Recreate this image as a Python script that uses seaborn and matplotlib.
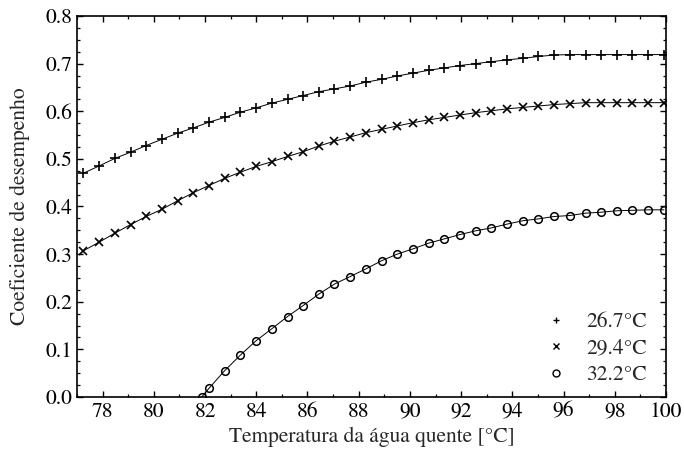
import matplotlib
matplotlib.use("Agg")
import matplotlib.pyplot as plt
from matplotlib.lines import Line2D
from matplotlib.ticker import MultipleLocator, FormatStrFormatter
import seaborn as sns

# Temperatura da água quente [°C] (pontos da malha)
temp_agua = [77.25, 77.86, 78.48, 79.09, 79.70, 80.31, 80.93, 81.54, 82.15, 82.76,
             83.38, 83.99, 84.60, 85.22, 85.83, 86.44, 87.05, 87.67, 88.28, 88.89,
             89.50, 90.12, 90.73, 91.34, 91.95, 92.57, 93.18, 93.79, 94.40, 95.02,
             95.63, 96.24, 96.86, 97.47, 98.08, 98.69, 99.30, 99.92]

# Coeficiente de desempenho para 26.7°C
cop_267 = [0.470, 0.485, 0.501, 0.514, 0.528, 0.541, 0.554, 0.565, 0.577, 0.587,
           0.598, 0.607, 0.617, 0.625, 0.633, 0.641, 0.647, 0.653, 0.661, 0.667,
           0.674, 0.680, 0.686, 0.691, 0.696, 0.700, 0.704, 0.708, 0.711, 0.715,
           0.718, 0.719, 0.719, 0.719, 0.719, 0.719, 0.719, 0.719]

# Coeficiente de desempenho para 29.4°C
cop_294 = [0.307, 0.325, 0.344, 0.362, 0.379, 0.394, 0.412, 0.429, 0.444, 0.459,
           0.472, 0.484, 0.494, 0.505, 0.515, 0.527, 0.537, 0.546, 0.555, 0.562,
           0.569, 0.576, 0.582, 0.587, 0.592, 0.597, 0.601, 0.605, 0.608, 0.611,
           0.614, 0.616, 0.618, 0.618, 0.618, 0.618, 0.618, 0.618]

# 32.2°C: começa no ponto onde o COP vale zero
temp_322 = [81.87] + temp_agua[8:]
cop_322 = [0.000, 0.018, 0.055, 0.088, 0.118, 0.143, 0.169, 0.192, 0.216, 0.237,
           0.253, 0.269, 0.286, 0.300, 0.311, 0.323, 0.332, 0.341, 0.349, 0.355,
           0.363, 0.370, 0.374, 0.379, 0.381, 0.386, 0.388, 0.391, 0.392, 0.393,
           0.393]

ROTULOS = ["26.7°C", "29.4°C", "32.2°C"]
MARCADORES = ["+", "x", "o"]

sns.set_theme(style="ticks")
plt.rcParams["font.family"] = ["STIXGeneral", "Liberation Serif", "DejaVu Serif"]
plt.rcParams["mathtext.fontset"] = "stix"
FS = 15.5

fig = plt.figure(figsize=(6.84, 4.57), dpi=100)
ax = fig.add_axes([0.1126, 0.1313, 0.8611, 0.8337])

series = [(temp_agua, cop_267, 7, 1.2), (temp_agua, cop_294, 5.5, 1.2), (temp_322, cop_322, 5.5, 1.1)]
for (xs, ys, ms, mew), marc in zip(series, MARCADORES):
    extra = {"markerfacecolor": "none"} if marc == "o" else {}
    sns.lineplot(x=xs, y=ys, ax=ax, color="black", linewidth=0.7, marker=marc,
                 markersize=ms, markeredgewidth=mew, markeredgecolor="black", **extra)

ax.set_xlim(77, 100)
ax.set_ylim(0, 0.8)
ax.xaxis.set_major_locator(MultipleLocator(2))
ax.xaxis.set_minor_locator(MultipleLocator(1))
ax.yaxis.set_major_locator(MultipleLocator(0.1))
ax.yaxis.set_minor_locator(MultipleLocator(0.025))
ax.yaxis.set_major_formatter(FormatStrFormatter("%.1f"))
ax.tick_params(which="both", direction="in", top=True, right=True, labelsize=FS, colors="black")
ax.tick_params(which="major", length=4.5, width=1.0)
ax.tick_params(which="minor", length=2.3, width=0.9)
for sp in ax.spines.values():
    sp.set_linewidth(1.2)
    sp.set_color("black")

ax.set_xlabel("Temperatura da água quente [°C]", fontsize=FS, labelpad=4)
ax.set_ylabel("Coeficiente de desempenho", fontsize=FS, labelpad=11)

handles = [Line2D([], [], linestyle="none", marker=m, color="black", markersize=5,
                  markeredgewidth=1.0, markerfacecolor="none") for m in MARCADORES]
ax.legend(handles, ROTULOS, loc="lower right", bbox_to_anchor=(1.0, -0.02), frameon=False,
          fontsize=FS, handlelength=1.0, handletextpad=0.9, labelspacing=0.3)

fig.savefig("out.png", dpi=100)
plt.close(fig)
